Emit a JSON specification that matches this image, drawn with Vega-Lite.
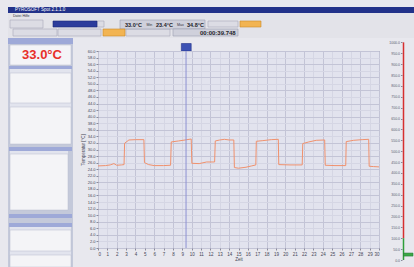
{
  "$schema": "https://vega.github.io/schema/vega-lite/v6.json",
  "background": "#e8e8ee",
  "padding": {"left": 8, "top": 7, "right": 0, "bottom": 0},
  "bounds": "flush",
  "spacing": 0,
  "config": {"view": {"stroke": null}, "font": "Liberation Sans", "axis": {"labelOverlap": false, "labelBound": false}},
  "datasets": {
    "titlebar": [{"label": "PYROSOFT Spot 2.1.1.0", "pos": 7, "row": 3}],
    "toolBoxes": [
      {"kind": "button", "x0": 2, "x1": 35, "y0": 7, "y1": 15},
      {"kind": "select", "x0": 45, "x1": 89, "y0": 8, "y1": 14},
      {"kind": "button", "x0": 89, "x1": 96, "y0": 8, "y1": 14},
      {"kind": "panel", "x0": 112, "x1": 197, "y0": 7, "y1": 16},
      {"kind": "button", "x0": 200, "x1": 230, "y0": 8, "y1": 14},
      {"kind": "orange", "x0": 232, "x1": 253, "y0": 8, "y1": 14},
      {"kind": "button", "x0": 5, "x1": 49, "y0": 16, "y1": 23},
      {"kind": "button", "x0": 50, "x1": 93, "y0": 16, "y1": 23},
      {"kind": "orange", "x0": 95, "x1": 117, "y0": 16, "y1": 23},
      {"kind": "button", "x0": 118, "x1": 162, "y0": 16, "y1": 23},
      {"kind": "panel", "x0": 165, "x1": 230, "y0": 16, "y1": 23}
    ],
    "toolText": [
      {"kind": "value", "label": "33.0°C", "pos": 117, "row": 11.5},
      {"kind": "value", "label": "23.4°C", "pos": 148, "row": 11.5},
      {"kind": "value", "label": "34.8°C", "pos": 179, "row": 11.5},
      {"kind": "time", "label": "00:00:39.748", "pos": 192, "row": 19.5},
      {"kind": "small", "label": "Min", "pos": 138.5, "row": 11.5},
      {"kind": "small", "label": "Max", "pos": 169, "row": 11.5},
      {"kind": "small", "label": "Datei  Hilfe", "pos": 5, "row": 3}
    ],
    "leftBoxes": [
      {"kind": "header", "x0": 0, "x1": 65, "y0": 0, "y1": 6},
      {"kind": "rows", "x0": 2, "x1": 63, "y0": 7, "y1": 27},
      {"kind": "header", "x0": 1, "x1": 64, "y0": 28, "y1": 31},
      {"kind": "sub", "x0": 2, "x1": 63, "y0": 31, "y1": 35},
      {"kind": "rows", "x0": 2, "x1": 63, "y0": 35, "y1": 65},
      {"kind": "sub", "x0": 2, "x1": 63, "y0": 65, "y1": 69},
      {"kind": "rows", "x0": 2, "x1": 63, "y0": 69, "y1": 106},
      {"kind": "header", "x0": 1, "x1": 64, "y0": 109, "y1": 113},
      {"kind": "sub", "x0": 2, "x1": 60, "y0": 113, "y1": 116},
      {"kind": "rows", "x0": 2, "x1": 60, "y0": 116, "y1": 172},
      {"kind": "header", "x0": 1, "x1": 64, "y0": 176, "y1": 180},
      {"kind": "header", "x0": 1, "x1": 64, "y0": 185, "y1": 189},
      {"kind": "sub", "x0": 2, "x1": 63, "y0": 189, "y1": 192},
      {"kind": "rows", "x0": 2, "x1": 63, "y0": 192, "y1": 213},
      {"kind": "sub", "x0": 2, "x1": 63, "y0": 213, "y1": 217},
      {"kind": "rows", "x0": 2, "x1": 63, "y0": 217, "y1": 229}
    ],
    "bigValue": [{"label": "33.0°C", "pos": 34, "row": 17}],
    "cursorBox": [{"t0": 8.9, "t1": 9.95, "v0": 0, "v1": 7.5}],
    "cursor": [{"t": 9.4}],
    "temp": [
      {"t": 0, "temp": 25.0}, {"t": 0.8, "temp": 25.1}, {"t": 1.3, "temp": 25.3}, {"t": 1.7, "temp": 25.7},
      {"t": 2.0, "temp": 25.2}, {"t": 2.5, "temp": 25.3}, {"t": 2.78, "temp": 25.4},
      {"t": 2.84, "temp": 31.9}, {"t": 3.3, "temp": 32.9}, {"t": 4.0, "temp": 33.0}, {"t": 4.9, "temp": 33.0},
      {"t": 4.96, "temp": 26.0}, {"t": 5.4, "temp": 25.4}, {"t": 6.0, "temp": 25.1}, {"t": 7.0, "temp": 25.1}, {"t": 7.75, "temp": 25.2},
      {"t": 7.82, "temp": 32.3}, {"t": 8.6, "temp": 32.6}, {"t": 9.3, "temp": 32.9}, {"t": 9.95, "temp": 33.2},
      {"t": 10.02, "temp": 25.8}, {"t": 10.8, "temp": 25.7}, {"t": 11.6, "temp": 26.2}, {"t": 12.45, "temp": 26.2},
      {"t": 12.52, "temp": 32.6}, {"t": 13.0, "temp": 32.9}, {"t": 13.5, "temp": 33.1}, {"t": 14.0, "temp": 32.9}, {"t": 14.5, "temp": 32.9},
      {"t": 14.56, "temp": 24.5}, {"t": 15.0, "temp": 24.3}, {"t": 15.8, "temp": 24.6}, {"t": 16.4, "temp": 25.0}, {"t": 16.85, "temp": 25.3},
      {"t": 16.9, "temp": 32.5}, {"t": 17.6, "temp": 32.7}, {"t": 18.5, "temp": 33.0}, {"t": 19.25, "temp": 33.1},
      {"t": 19.3, "temp": 25.4}, {"t": 20.5, "temp": 25.3}, {"t": 21.8, "temp": 25.3},
      {"t": 21.86, "temp": 31.8}, {"t": 22.5, "temp": 32.3}, {"t": 23.3, "temp": 32.8}, {"t": 24.2, "temp": 32.9},
      {"t": 24.26, "temp": 25.2}, {"t": 25.3, "temp": 25.1}, {"t": 26.45, "temp": 25.1},
      {"t": 26.5, "temp": 32.4}, {"t": 27.3, "temp": 32.8}, {"t": 28.2, "temp": 33.0}, {"t": 28.9, "temp": 33.1},
      {"t": 28.95, "temp": 24.9}, {"t": 29.4, "temp": 24.8}, {"t": 30, "temp": 24.7}
    ],
    "gauge": [
      {"part": "hot", "from": 100, "to": 1000},
      {"part": "ok", "from": 0, "to": 100}
    ],
    "gaugeMarker": [{"g0": 3.5, "g1": 11, "from": 18, "to": 32}]
  },
  "vconcat": [
    {
      "width": 406,
      "height": 6,
      "view": {"fill": "#22328a", "stroke": null},
      "data": {"name": "titlebar"},
      "mark": {"type": "text", "color": "#ffffff", "fontSize": 4.5, "align": "left", "baseline": "middle"},
      "encoding": {
        "x": {"field": "pos", "type": "quantitative", "scale": {"domain": [0, 406], "nice": false, "zero": false}, "axis": null},
        "y": {"field": "row", "type": "quantitative", "scale": {"domain": [0, 6], "reverse": true, "nice": false}, "axis": null},
        "text": {"field": "label"}
      }
    },
    {
      "width": 406,
      "height": 25,
      "view": {"fill": "#e3e3e9", "stroke": null},
      "layer": [
        {
          "data": {"name": "toolBoxes"},
          "transform": [{"filter": "datum.kind === 'button'"}],
          "mark": {"type": "rect", "fill": "#dcdce4", "stroke": "#a9a9ba", "strokeWidth": 0.6},
          "encoding": {
            "x": {"field": "x0", "type": "quantitative", "scale": {"domain": [0, 406], "nice": false, "zero": false}, "axis": null},
            "x2": {"field": "x1"},
            "y": {"field": "y0", "type": "quantitative", "scale": {"domain": [0, 25], "reverse": true, "nice": false}, "axis": null},
            "y2": {"field": "y1"}
          }
        },
        {
          "data": {"name": "toolBoxes"},
          "transform": [{"filter": "datum.kind === 'panel'"}],
          "mark": {"type": "rect", "fill": "#cfd0db", "stroke": "#9c9db2", "strokeWidth": 0.6},
          "encoding": {
            "x": {"field": "x0", "type": "quantitative", "axis": null},
            "x2": {"field": "x1"},
            "y": {"field": "y0", "type": "quantitative", "axis": null},
            "y2": {"field": "y1"}
          }
        },
        {
          "data": {"name": "toolBoxes"},
          "transform": [{"filter": "datum.kind === 'orange'"}],
          "mark": {"type": "rect", "fill": "#f2b452", "stroke": "#c98a2a", "strokeWidth": 0.6},
          "encoding": {
            "x": {"field": "x0", "type": "quantitative", "axis": null},
            "x2": {"field": "x1"},
            "y": {"field": "y0", "type": "quantitative", "axis": null},
            "y2": {"field": "y1"}
          }
        },
        {
          "data": {"name": "toolBoxes"},
          "transform": [{"filter": "datum.kind === 'select'"}],
          "mark": {"type": "rect", "fill": "#2c3c9c", "stroke": "#1c2a78", "strokeWidth": 0.6},
          "encoding": {
            "x": {"field": "x0", "type": "quantitative", "axis": null},
            "x2": {"field": "x1"},
            "y": {"field": "y0", "type": "quantitative", "axis": null},
            "y2": {"field": "y1"}
          }
        },
        {
          "data": {"name": "toolText"},
          "transform": [{"filter": "datum.kind === 'value'"}],
          "mark": {"type": "text", "fontSize": 5.5, "fontWeight": "bold", "color": "#1e1e2a", "align": "left", "baseline": "middle"},
          "encoding": {
            "x": {"field": "pos", "type": "quantitative", "axis": null},
            "y": {"field": "row", "type": "quantitative", "axis": null},
            "text": {"field": "label"}
          }
        },
        {
          "data": {"name": "toolText"},
          "transform": [{"filter": "datum.kind === 'time'"}],
          "mark": {"type": "text", "fontSize": 6, "fontWeight": "bold", "color": "#1e1e2a", "align": "left", "baseline": "middle"},
          "encoding": {
            "x": {"field": "pos", "type": "quantitative", "axis": null},
            "y": {"field": "row", "type": "quantitative", "axis": null},
            "text": {"field": "label"}
          }
        },
        {
          "data": {"name": "toolText"},
          "transform": [{"filter": "datum.kind === 'small'"}],
          "mark": {"type": "text", "fontSize": 3.6, "color": "#333340", "align": "left", "baseline": "middle"},
          "encoding": {
            "x": {"field": "pos", "type": "quantitative", "axis": null},
            "y": {"field": "row", "type": "quantitative", "axis": null},
            "text": {"field": "label"}
          }
        }
      ]
    },
    {
      "bounds": "full",
      "spacing": 6,
      "hconcat": [
        {
          "width": 65,
          "height": 229,
          "view": {"fill": "#c4c9da", "stroke": null},
          "layer": [
            {
              "data": {"name": "leftBoxes"},
              "transform": [{"filter": "datum.kind === 'header'"}],
              "mark": {"type": "rect", "fill": "#9ea9d8"},
              "encoding": {
                "x": {"field": "x0", "type": "quantitative", "scale": {"domain": [0, 65], "nice": false, "zero": false}, "axis": null},
                "x2": {"field": "x1"},
                "y": {"field": "y0", "type": "quantitative", "scale": {"domain": [0, 229], "reverse": true, "nice": false}, "axis": null},
                "y2": {"field": "y1"}
              }
            },
            {
              "data": {"name": "leftBoxes"},
              "transform": [{"filter": "datum.kind === 'sub'"}],
              "mark": {"type": "rect", "fill": "#e2e4ee"},
              "encoding": {
                "x": {"field": "x0", "type": "quantitative", "axis": null},
                "x2": {"field": "x1"},
                "y": {"field": "y0", "type": "quantitative", "axis": null},
                "y2": {"field": "y1"}
              }
            },
            {
              "data": {"name": "leftBoxes"},
              "transform": [{"filter": "datum.kind === 'rows'"}],
              "mark": {"type": "rect", "fill": "#f4f4f7", "stroke": "#b8bccc", "strokeWidth": 0.5},
              "encoding": {
                "x": {"field": "x0", "type": "quantitative", "axis": null},
                "x2": {"field": "x1"},
                "y": {"field": "y0", "type": "quantitative", "axis": null},
                "y2": {"field": "y1"}
              }
            },
            {
              "data": {"name": "bigValue"},
              "mark": {"type": "text", "fontSize": 13, "fontWeight": "bold", "color": "#e8302a", "align": "center", "baseline": "middle"},
              "encoding": {
                "x": {"field": "pos", "type": "quantitative", "axis": null},
                "y": {"field": "row", "type": "quantitative", "axis": null},
                "text": {"field": "label"}
              }
            }
          ]
        },
        {
          "bounds": "flush",
          "spacing": 0,
          "vconcat": [
            {
              "width": 281,
              "height": 13,
              "data": {"name": "cursorBox"},
              "mark": {"type": "rect", "fill": "#3d52b4", "stroke": "#24338a", "strokeWidth": 0.6},
              "encoding": {
                "x": {"field": "t0", "type": "quantitative", "scale": {"domain": [0, 30], "nice": false, "zero": false}, "axis": null},
                "x2": {"field": "t1"},
                "y": {"field": "v0", "type": "quantitative", "scale": {"domain": [0, 13], "nice": false}, "axis": null},
                "y2": {"field": "v1"}
              }
            },
            {
              "width": 281,
              "height": 197,
              "view": {"fill": "#e2e3ee", "stroke": "#7e7f90", "strokeWidth": 1},
              "encoding": {
                "x": {
                  "field": "t", "type": "quantitative",
                  "scale": {"domain": [0, 30], "nice": false, "zero": false},
                  "axis": {
                    "values": [0,1,2,3,4,5,6,7,8,9,10,11,12,13,14,15,16,17,18,19,20,21,22,23,24,25,26,27,28,29,30],
                    "labelOverlap": false,
                    "labelFontSize": 4.5, "labelColor": "#444455", "labelPadding": 1,
                    "tickSize": 2, "tickColor": "#8a8a9a", "domain": false,
                    "grid": true,
                    "gridColor": {"condition": {"test": "datum.value % 2 === 0", "value": "#c3c4d6"}, "value": "#d5d6e4"},
                    "title": "Zeit", "titleFontSize": 4.5, "titleFontWeight": "normal", "titleColor": "#444455", "titlePadding": 1
                  }
                }
              },
              "layer": [
                {
                  "data": {"name": "temp"},
                  "mark": {"type": "line", "color": "#f0916d", "strokeWidth": 1},
                  "encoding": {
                    "y": {
                      "field": "temp", "type": "quantitative",
                      "scale": {"domain": [0, 60], "nice": false, "zero": false},
                      "axis": {
                        "values": [0,2,4,6,8,10,12,14,16,18,20,22,24,26,28,30,32,34,36,38,40,42,44,46,48,50,52,54,56,58,60],
                        "labelOverlap": false,
                        "format": ".1f",
                        "labelFontSize": 4, "labelColor": "#444455", "labelPadding": 1,
                        "tickSize": 2, "tickColor": "#8a8a9a", "domain": false,
                        "grid": true,
                        "gridColor": {"condition": {"test": "datum.value % 4 === 0", "value": "#c3c4d6"}, "value": "#d5d6e4"},
                        "title": "Temperatur [°C]", "titleFontSize": 4.5, "titleFontWeight": "normal", "titleColor": "#444455", "titlePadding": 2
                      }
                    }
                  }
                },
                {
                  "data": {"name": "cursor"},
                  "mark": {"type": "rule", "color": "#8d90d2", "strokeWidth": 1},
                  "encoding": {}
                }
              ]
            }
          ]
        },
        {
          "width": 12,
          "height": 222,
          "encoding": {
            "x": {"datum": 1.5, "type": "quantitative", "scale": {"domain": [0, 12], "nice": false, "zero": false}, "axis": null},
            "y": {
              "field": "from", "type": "quantitative",
              "scale": {"domain": [0, 1020], "nice": false, "zero": false},
              "axis": {
                "values": [0,50,100,150,200,250,300,350,400,450,500,550,600,650,700,750,800,850,900,950,1000],
                "labelOverlap": false,
                "format": ".1f", "labelFontSize": 3.5, "labelColor": "#556070", "labelPadding": 1,
                "tickSize": 1.5, "tickColor": "#8a8a9a", "domain": false, "grid": false, "title": null
              }
            },
            "y2": {"field": "to"}
          },
          "layer": [
            {
              "data": {"name": "gauge"},
              "mark": {"type": "rule", "strokeWidth": 1.5},
              "encoding": {
                "color": {"field": "part", "type": "nominal", "scale": {"domain": ["hot", "ok"], "range": ["#d62f2f", "#2e9e3a"]}, "legend": null}
              }
            },
            {
              "data": {"name": "gaugeMarker"},
              "mark": {"type": "rect", "fill": "#3aa845", "stroke": "#237030", "strokeWidth": 0.5},
              "encoding": {
                "x": {"field": "g0", "type": "quantitative"},
                "x2": {"field": "g1"}
              }
            }
          ]
        }
      ]
    }
  ]
}
